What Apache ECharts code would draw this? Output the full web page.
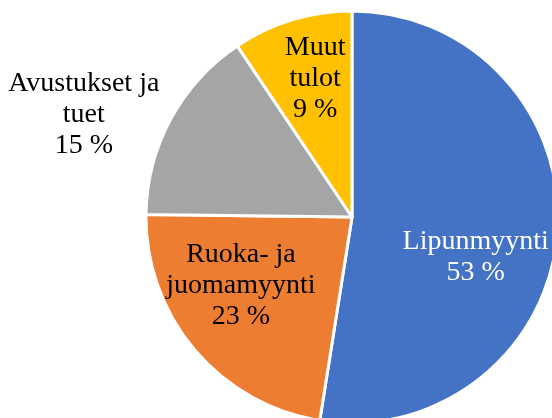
<!DOCTYPE html>
<html>
<head>
<meta charset="utf-8">
<script src="https://cdn.jsdelivr.net/npm/echarts@6/dist/echarts.min.js"></script>
<style>
  html, body { margin: 0; padding: 0; background: #fff; }
  #chart { width: 552px; height: 418px; }
</style>
</head>
<body>
<div id="chart"></div>
<script>
// tulot osuuksina (%)
var categories = ['Lipunmyynti', 'Ruoka- ja\njuomamyynti', 'Avustukset ja\ntuet', 'Muut\ntulot'];
var values = [52.5, 22.7, 15.4, 9.4];
var colors = ['#4472C4', '#ED7D31', '#A5A5A5', '#FFC000'];
var textColors = ['#ffffff', '#000000', '#000000', '#000000'];
// label nudges, the Excel label spots are not at r/2
var labelOffsets = [[18, 32], [-30, 0], [-175, -52], [-6, -37]];

var chart = echarts.init(document.getElementById('chart'));

var pieData = categories.map(function (name, i) {
  return {
    name: name,
    value: values[i],
    itemStyle: { color: colors[i] },
    label: { color: textColors[i], offset: labelOffsets[i] }
  };
});

chart.setOption({
  animation: false,
  series: [{
    type: 'pie',
    center: [352, 217],
    radius: 206,
    startAngle: 90,
    clockwise: true,
    percentPrecision: 0,
    itemStyle: { borderColor: '#ffffff', borderWidth: 3 },
    label: {
      show: true,
      position: 'inside',
      fontFamily: 'Liberation Serif',
      fontSize: 28,
      lineHeight: 31,
      align: 'center',
      formatter: function (p) {
        return p.name + '\n' + p.percent + ' %';
      }
    },
    labelLine: { show: false },
    emphasis: { disabled: true },
    data: pieData
  }]
});
</script>
</body>
</html>
